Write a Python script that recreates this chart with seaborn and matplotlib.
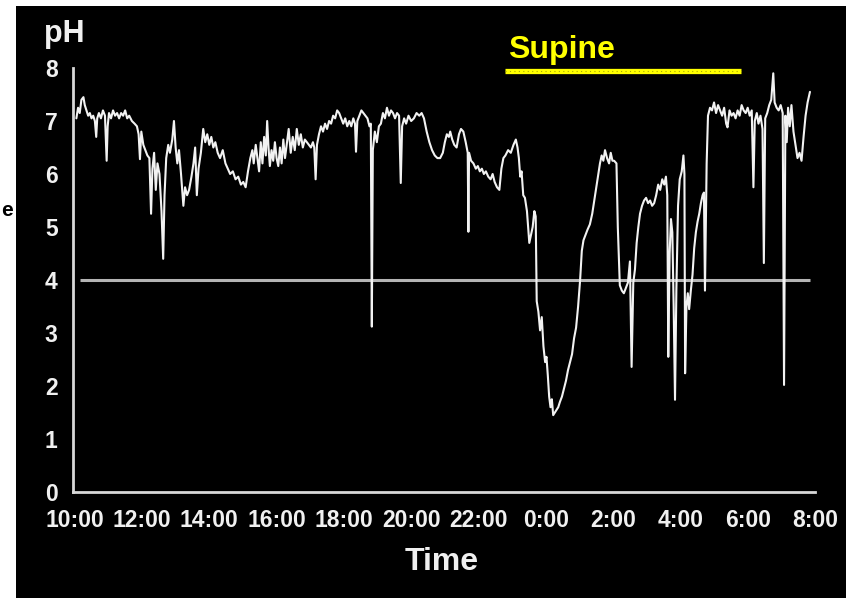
import matplotlib
matplotlib.use("Agg")
import matplotlib.pyplot as plt
import seaborn as sns
import pandas as pd
from matplotlib.patches import Rectangle

# ---------------- data (hours after 10:00, pH) ----------------
TIME_H = [
    0.05, 0.10, 0.15, 0.20, 0.26, 0.30, 0.35, 0.40, 0.45, 0.50, 0.55, 0.60, 0.64, 0.67, 0.72,
    0.78, 0.84, 0.90, 0.93, 0.95, 0.98, 1.02, 1.08, 1.14, 1.20, 1.26, 1.32, 1.38, 1.44, 1.50,
    1.56, 1.62, 1.70, 1.78, 1.85, 1.90, 1.94, 1.98, 2.04, 2.10, 2.16, 2.22, 2.27, 2.31, 2.36,
    2.41, 2.46, 2.52, 2.58, 2.63, 2.67, 2.72, 2.78, 2.83, 2.90, 2.95, 3.00, 3.05, 3.10, 3.16,
    3.23, 3.28, 3.34, 3.40, 3.47, 3.53, 3.58, 3.63, 3.68, 3.75, 3.82, 3.88, 3.94, 4.00, 4.06,
    4.12, 4.18, 4.25, 4.32, 4.40, 4.48, 4.55, 4.62, 4.70, 4.78, 4.86, 4.94, 5.01, 5.08, 5.15,
    5.22, 5.28, 5.32, 5.38, 5.43, 5.48, 5.53, 5.58, 5.63, 5.68, 5.72, 5.76, 5.80, 5.85, 5.90,
    5.95, 6.00, 6.05, 6.10, 6.15, 6.20, 6.25, 6.30, 6.36, 6.42, 6.48, 6.54, 6.60, 6.66, 6.72,
    6.78, 6.84, 6.90, 6.96, 7.02, 7.08, 7.12, 7.16, 7.20, 7.26, 7.32, 7.38, 7.44, 7.50, 7.56,
    7.62, 7.68, 7.74, 7.80, 7.86, 7.92, 7.98, 8.04, 8.10, 8.16, 8.22, 8.28, 8.33, 8.36, 8.40,
    8.46, 8.52, 8.58, 8.64, 8.70, 8.76, 8.80, 8.83, 8.86, 8.92, 8.98, 9.04, 9.10, 9.16, 9.22,
    9.28, 9.34, 9.40, 9.46, 9.52, 9.58, 9.64, 9.69, 9.73, 9.79, 9.85, 9.92, 10.00, 10.08, 10.16,
    10.24, 10.31, 10.38, 10.46, 10.54, 10.62, 10.70, 10.78, 10.86, 10.94, 11.00, 11.06, 11.12, 11.16, 11.22,
    11.28, 11.35, 11.42, 11.48, 11.55, 11.62, 11.68, 11.70, 11.72, 11.78, 11.85, 11.92, 11.98, 12.04, 12.10,
    12.16, 12.22, 12.29, 12.36, 12.42, 12.48, 12.55, 12.62, 12.68, 12.74, 12.80, 12.88, 12.96, 13.04, 13.11,
    13.16, 13.20, 13.24, 13.28, 13.33, 13.38, 13.44, 13.51, 13.56, 13.61, 13.66, 13.70, 13.73, 13.78, 13.83,
    13.88, 13.93, 13.98, 14.02, 14.06, 14.10, 14.14, 14.18, 14.22, 14.27, 14.32, 14.37, 14.42, 14.48, 14.54,
    14.60, 14.66, 14.72, 14.78, 14.84, 14.90, 14.96, 15.02, 15.07, 15.12, 15.18, 15.24, 15.31, 15.38, 15.44,
    15.51, 15.56, 15.61, 15.66, 15.71, 15.76, 15.82, 15.88, 15.93, 15.98, 16.03, 16.10, 16.14, 16.20, 16.26,
    16.32, 16.38, 16.44, 16.50, 16.55, 16.60, 16.65, 16.70, 16.75, 16.80, 16.86, 16.92, 16.98, 17.04, 17.10,
    17.16, 17.22, 17.28, 17.34, 17.40, 17.46, 17.52, 17.57, 17.61, 17.64, 17.68, 17.72, 17.76, 17.80, 17.84,
    17.88, 17.93, 17.98, 18.04, 18.09, 18.12, 18.14, 18.18, 18.22, 18.26, 18.31, 18.36, 18.41, 18.46, 18.51,
    18.56, 18.61, 18.66, 18.70, 18.73, 18.78, 18.82, 18.88, 18.94, 19.00, 19.06, 19.12, 19.18, 19.24, 19.30,
    19.36, 19.40, 19.46, 19.52, 19.58, 19.64, 19.70, 19.76, 19.82, 19.88, 19.94, 20.00, 20.06, 20.12, 20.17,
    20.21, 20.27, 20.32, 20.38, 20.44, 20.48, 20.52, 20.58, 20.64, 20.70, 20.76, 20.80, 20.86, 20.92, 20.98,
    21.04, 21.08, 21.12, 21.16, 21.20, 21.25, 21.30, 21.36, 21.42, 21.48, 21.54, 21.60, 21.66, 21.72, 21.78,
    21.85,
]
PH = [
    7.05, 7.25, 7.15, 7.40, 7.45, 7.30, 7.20, 7.10, 7.15, 7.05, 7.10, 7.00, 6.70, 7.05, 7.15,
    7.05, 7.20, 7.10, 6.60, 6.25, 6.90, 7.15, 7.05, 7.20, 7.10, 7.15, 7.05, 7.15, 7.10, 7.20,
    7.05, 7.10, 7.00, 6.95, 6.90, 6.75, 6.28, 6.80, 6.55, 6.45, 6.35, 6.30, 5.25, 6.10, 6.40,
    5.70, 6.20, 6.00, 5.30, 4.40, 5.60, 6.30, 6.55, 6.40, 6.65, 7.00, 6.50, 6.20, 6.45, 6.00,
    5.40, 5.75, 5.60, 5.70, 5.95, 6.20, 6.50, 5.60, 6.10, 6.40, 6.85, 6.60, 6.75, 6.55, 6.70,
    6.50, 6.60, 6.40, 6.30, 6.45, 6.20, 6.10, 6.00, 6.05, 5.90, 5.95, 5.80, 5.85, 5.75, 6.05,
    6.30, 6.45, 6.20, 6.55, 6.30, 6.05, 6.60, 6.20, 6.70, 6.35, 7.00, 6.50, 6.15, 6.45, 6.25,
    6.60, 6.30, 6.15, 6.50, 6.20, 6.65, 6.30, 6.55, 6.85, 6.40, 6.70, 6.45, 6.85, 6.55, 6.75,
    6.50, 6.65, 6.60, 6.55, 6.50, 6.60, 6.50, 5.90, 6.55, 6.75, 6.90, 6.80, 6.95, 6.85, 7.00,
    6.95, 7.10, 7.05, 7.20, 7.15, 7.05, 6.95, 7.05, 6.90, 7.00, 6.90, 7.05, 6.95, 6.42, 7.00,
    7.10, 7.20, 7.15, 7.10, 7.05, 6.90, 6.95, 3.12, 6.45, 6.80, 6.60, 6.90, 6.95, 7.15, 7.05,
    7.25, 7.10, 7.20, 7.15, 7.05, 7.15, 7.10, 5.83, 6.90, 7.05, 6.95, 7.10, 7.00, 7.05, 7.15,
    7.10, 7.15, 7.05, 6.80, 6.60, 6.45, 6.35, 6.30, 6.30, 6.40, 6.60, 6.75, 6.70, 6.80, 6.65,
    6.55, 6.50, 6.75, 6.85, 6.80, 6.60, 6.40, 4.91, 6.40, 6.25, 6.20, 6.10, 6.15, 6.05, 6.10,
    6.00, 6.05, 5.95, 5.90, 6.00, 5.85, 5.75, 5.70, 6.10, 6.30, 6.35, 6.45, 6.40, 6.55, 6.65,
    6.50, 6.30, 5.95, 6.05, 5.60, 5.55, 5.30, 4.70, 4.85, 5.00, 5.30, 5.20, 3.60, 3.40, 3.05,
    3.30, 2.75, 2.45, 2.55, 2.20, 1.80, 1.60, 1.75, 1.45, 1.50, 1.55, 1.60, 1.70, 1.80, 1.95,
    2.10, 2.30, 2.45, 2.60, 2.90, 3.10, 3.50, 4.00, 4.55, 4.75, 4.85, 4.95, 5.05, 5.25, 5.50,
    5.80, 6.00, 6.20, 6.35, 6.25, 6.45, 6.30, 6.20, 6.40, 6.25, 6.25, 6.20, 5.00, 3.90, 3.80,
    3.75, 3.85, 3.95, 4.35, 2.36, 3.95, 4.20, 4.70, 5.00, 5.25, 5.40, 5.50, 5.55, 5.45, 5.50,
    5.40, 5.45, 5.60, 5.80, 5.70, 5.90, 5.80, 5.95, 5.60, 2.55, 4.50, 5.15, 4.90, 3.50, 1.74,
    3.80, 5.40, 5.90, 6.05, 6.35, 6.00, 2.24, 3.50, 3.75, 3.45, 3.80, 4.10, 4.60, 4.90, 5.10,
    5.25, 5.45, 5.60, 5.65, 3.80, 6.20, 7.10, 7.25, 7.20, 7.35, 7.15, 7.30, 7.20, 7.10, 7.25,
    6.95, 6.88, 7.20, 7.10, 7.15, 7.05, 7.20, 7.10, 7.30, 7.20, 7.15, 7.25, 7.10, 7.20, 5.75,
    7.00, 7.15, 6.95, 7.10, 6.85, 4.32, 7.05, 7.15, 7.30, 7.40, 7.90, 7.35, 7.25, 7.20, 7.30,
    7.15, 2.02, 7.10, 6.60, 7.25, 6.90, 7.30, 6.80, 6.55, 6.30, 6.40, 6.25, 6.70, 7.10, 7.35,
    7.55,
]
TICK_HOURS = [0, 2, 4, 6, 8, 10, 12, 14, 16, 18, 20, 22]
TICK_LABELS = ["10:00", "12:00", "14:00", "16:00", "18:00", "20:00",
               "22:00", "0:00", "2:00", "4:00", "6:00", "8:00"]
Y_TICKS = [0, 1, 2, 3, 4, 5, 6, 7, 8]
THRESHOLD = 4.0
THRESHOLD_SPAN = (0.16, 21.85)
SUPINE_SPAN = (12.79, 19.80)
SUPINE_LEVEL = 7.95

# ---------------- style ----------------
sns.set_style("dark")
plt.rcParams["font.family"] = ["Liberation Sans", "DejaVu Sans"]
plt.rcParams["font.weight"] = "bold"

W, H = 846, 598
fig = plt.figure(figsize=(W / 100, H / 100), dpi=100)
fig.patch.set_facecolor("white")
fig.patches.append(Rectangle((16 / W, 0), 1 - 16 / W, 1 - 6 / H,
                             transform=fig.transFigure, facecolor="black",
                             edgecolor="none", zorder=-5))

ax = fig.add_axes([73 / W, 106 / H, (815 - 73) / W, (492 - 68) / H])
ax.set_facecolor("black")
ax.set_zorder(1)

df = pd.DataFrame({"hours": TIME_H, "pH": PH})
sns.lineplot(data=df, x="hours", y="pH", ax=ax, color="#f2f2f2",
             linewidth=1.5, estimator=None, sort=False, zorder=3)

ax.hlines(THRESHOLD, THRESHOLD_SPAN[0], THRESHOLD_SPAN[1], color="#b4b4b4",
          linewidth=2.2, zorder=2)

ax.plot(SUPINE_SPAN, [SUPINE_LEVEL, SUPINE_LEVEL], color="#ffff00",
        linewidth=3.8, solid_capstyle="butt", clip_on=False, zorder=4)
ax.plot(SUPINE_SPAN, [SUPINE_LEVEL, SUPINE_LEVEL], color="#a8a800",
        linewidth=0.8, linestyle=(0, (1, 3)), clip_on=False, zorder=5)

ax.set_xlim(-0.05, 22.0)
ax.set_ylim(0, 8)
ax.set_xticks(TICK_HOURS)
ax.set_xticklabels(TICK_LABELS)
ax.set_yticks(Y_TICKS)
ax.set_xlabel("")
ax.set_ylabel("")
ax.grid(False)

for side in ["top", "right"]:
    ax.spines[side].set_visible(False)
for side in ["left", "bottom"]:
    ax.spines[side].set_visible(True)
    ax.spines[side].set_color("#d8d8d8")
    ax.spines[side].set_linewidth(2.0)

ax.tick_params(axis="both", direction="in", length=7, width=1.4,
               color="#d8d8d8", labelcolor="#f0f0f0", labelsize=16.5)
ax.tick_params(axis="x", pad=12)
ax.tick_params(axis="y", pad=11)
for lbl in ax.get_xticklabels() + ax.get_yticklabels():
    lbl.set_fontweight("bold")

fig.text(44 / W, 1 - 42 / H, "pH", color="#f0f0f0", fontsize=22,
         fontweight="bold", ha="left", va="baseline")
fig.text(508 / W, 1 - 58 / H, "Supine", color="#ffff00", fontsize=23,
         fontweight="bold", ha="left", va="baseline")
fig.text(442 / W, 1 - 570 / H, "Time", color="#f0f0f0", fontsize=23,
         fontweight="bold", ha="center", va="baseline")
fig.text(1 / W, 1 - 216 / H, "e", color="black", fontsize=15,
         fontweight="bold", ha="left", va="baseline")

fig.savefig("out.png", dpi=100, facecolor=fig.get_facecolor())
